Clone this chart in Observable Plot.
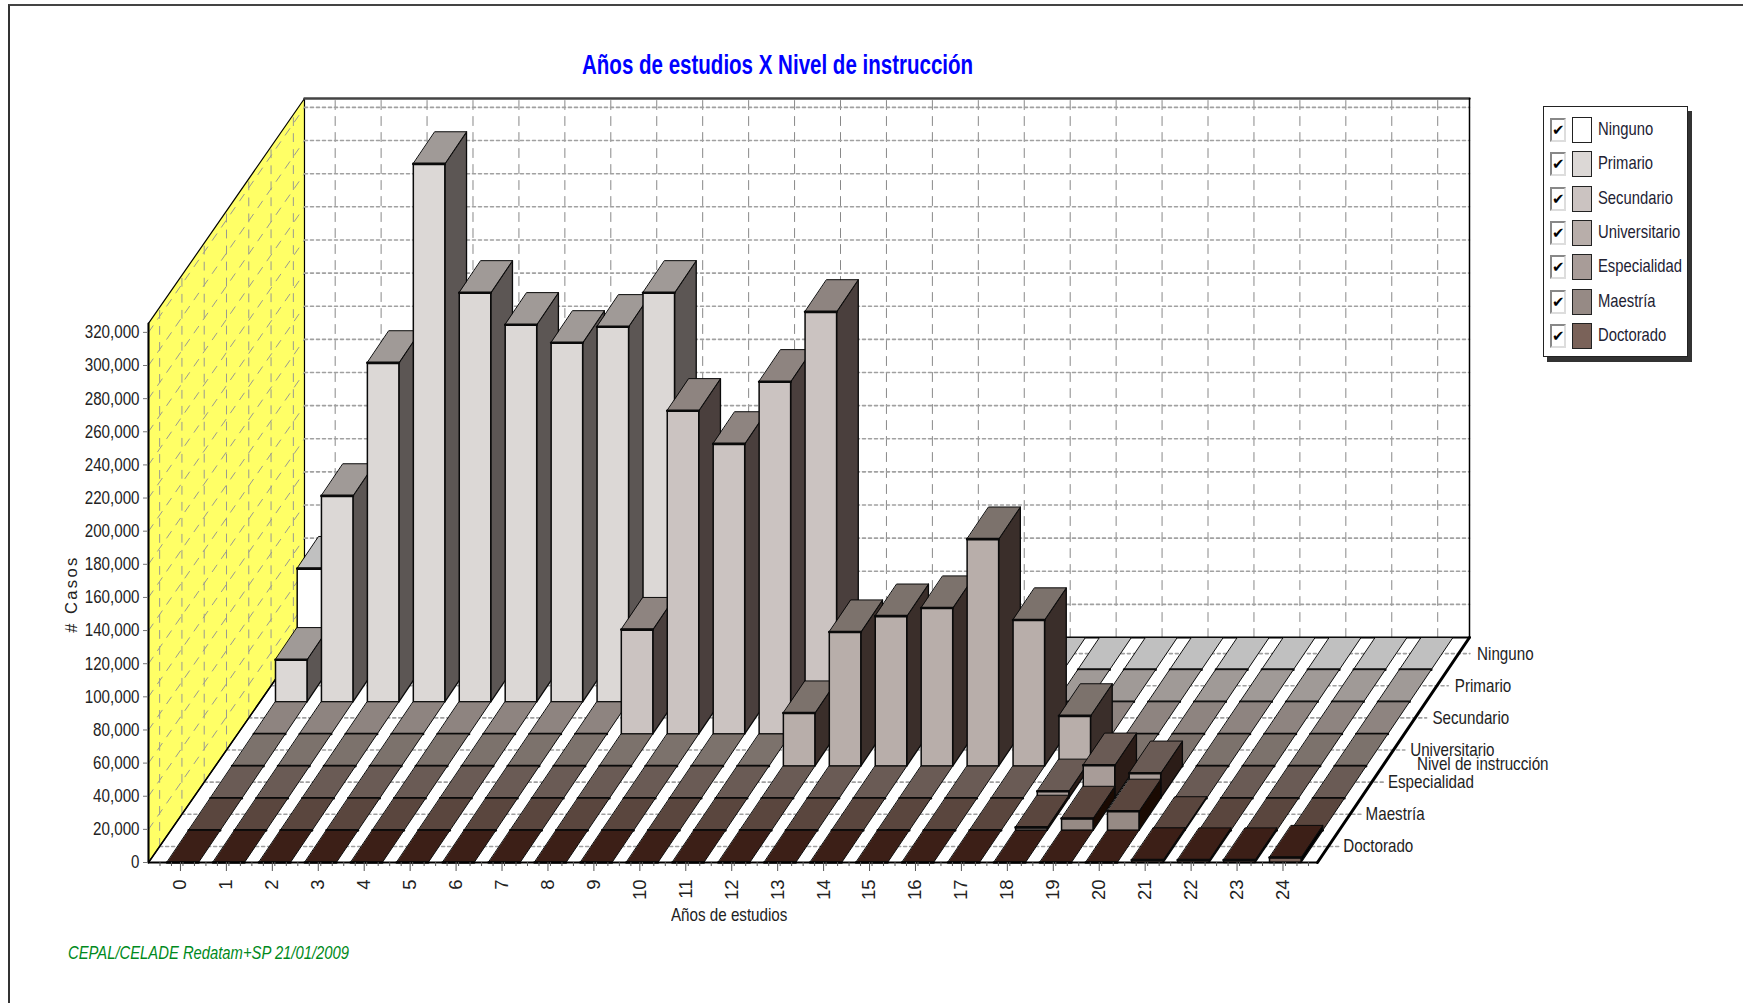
<!DOCTYPE html>
<html lang="es">
<head>
<meta charset="utf-8">
<script src="https://cdn.jsdelivr.net/npm/d3@7"></script>
<script src="https://cdn.jsdelivr.net/npm/@observablehq/plot@0.6"></script>
<style>
html,body{margin:0;padding:0;background:#fff;overflow:hidden}
#page{position:relative;width:1743px;height:1003px;font-family:"Liberation Sans",Arial,sans-serif;color:#222}
#page svg{display:block;position:absolute;left:0;top:0}
#frame{position:absolute;left:8px;top:4px;right:0;bottom:0;border-top:2px solid #444;border-left:2px solid #333;pointer-events:none}
.t{position:absolute;white-space:nowrap;z-index:3;transform-origin:left center}
#title{left:582px;top:48px;font-size:27px;font-weight:bold;color:#0000ff;line-height:34px;transform:scaleX(.76)}
#xlabel{left:671px;top:904px;font-size:18.5px;line-height:22px;transform:scaleX(.82)}
#zlabel{left:1417px;top:752px;font-size:18.5px;line-height:24px;transform:scaleX(.82)}
#ylabel{left:71px;top:594px;font-size:16.5px;letter-spacing:2.4px;transform-origin:center;transform:translate(-50%,-50%) rotate(-90deg)}
#caption{left:68px;top:941px;font-size:18.5px;font-style:italic;color:#008a20;line-height:24px;transform:scaleX(.8)}
#legend{position:absolute;z-index:3;left:1543px;top:106px;width:143px;height:249px;background:#fff;border:1.5px solid #222;box-shadow:4px 5px 0 #333}
.row{position:absolute;left:0;height:26px;width:100%}
.cb{position:absolute;left:6px;top:1px;width:12px;height:20px;background:#fff;border:2px solid #888;border-right-color:#ddd;border-bottom-color:#ddd;font:bold 15px/20px "DejaVu Sans",sans-serif;color:#000;text-align:center;overflow:hidden}
.sw{position:absolute;left:28px;top:0;width:18px;height:24px;border:1.5px solid #222}
.lb{position:absolute;left:54px;top:0;font-size:18.5px;line-height:24px;color:#223;transform:scaleX(.8);transform-origin:left center;white-space:nowrap}
</style>
</head>
<body>
<div id="page">
  <div id="frame"></div>
  <div class="t" id="title">Años de estudios X Nivel de instrucción</div>
  <div class="t" id="xlabel">Años de estudios</div>
  <div class="t" id="zlabel">Nivel de instrucción</div>
  <div class="t" id="ylabel"># Casos</div>
  <div class="t" id="caption">CEPAL/CELADE Redatam+SP 21/01/2009</div>
  <div id="legend"></div>
</div>
<script>
// ---------- data ----------
const years = ["0","1","2","3","4","5","6","7","8","9","10","11","12","13","14","15","16","17","18","19","20","21","22","23","24"];
const levels = ["Doctorado","Maestría","Especialidad","Universitario","Secundario","Primario","Ninguno"]; // front to back
const ninguno       = [61000,0,0,0,0,0,0,0,0,0,0,0,0,0,0,0,0,0,0,0,0,0,0,0,0];
const primario      = [25400,124300,204600,324700,246900,227600,216700,226400,246900,0,0,0,0,0,0,0,0,0,0,0,0,0,0,0,0];
const secundario    = [0,0,0,0,0,0,0,0,63000,195100,175100,212600,254800,0,0,0,0,0,0,0,0,0,0,0,0];
const universitario = [0,0,0,0,0,0,0,0,0,0,0,0,32000,80900,90500,95400,137000,88200,30300,0,0,0,0,0,0];
const especialidad  = [0,0,0,0,0,0,0,0,0,0,0,0,0,0,0,0,0,0,4200,19900,15100,0,0,0,0];
const maestria      = [0,0,0,0,0,0,0,0,0,0,0,0,0,0,0,0,0,0,1800,7200,11500,900,0,0,0];
const doctorado     = [0,0,0,0,0,0,0,0,0,0,0,0,0,0,0,0,0,0,0,0,0,1500,1500,1500,3000];
const series = [doctorado,maestria,especialidad,universitario,secundario,primario,ninguno];
const frontColors = ["#7a6259","#968a85","#a89c98","#b8aeaa","#cbc3c1","#dcd8d6","#ffffff"];
const topColors   = ["#3c1f17","#5a463e","#6a5b55","#7c726c","#8e8480","#a09a97","#c0c0c0"];
const sideColors  = ["#000000","#1a0a02","#2b1c17","#3a2e2a","#4a3f3d","#5c5654","#7f7f7f"];
const legendNames = ["Ninguno","Primario","Secundario","Universitario","Especialidad","Maestría","Doctorado"];
const legendColors = ["#ffffff","#dcd8d6","#cbc3c1","#b8aeaa","#a89c98","#968a85","#7a6259"];
const yTicks = d3.range(0,320001,20000);

// ---------- oblique projection, in data units ----------
const dX = 0.4724, dY = 19400, halfBar = 0.343, axisMax = 325400;
const frontLeft = -0.7455, frontRight = 24.70, backLeft = 2.65, backRight = 28.01, gridShift = 3.318, tickShift = -0.05;
const P = (i,r,v) => ({x:i + r*dX, y:v + r*dY});
const wallY = 7*dY;

// ---------- faces ----------
const back = [], faces = [];
let n = 0;
const poly = (arr,pts,fill,sw=1) => { const id = n++; pts.forEach(p => arr.push({...p,id,fill,sw})); };
poly(back,[{x:frontLeft,y:0},{x:frontLeft,y:axisMax},{x:backLeft,y:axisMax+wallY},{x:backLeft,y:wallY}],"#ffff66");

for (let r = levels.length-1; r >= 0; r--) {
  series[r].forEach((v,i) => {
    const l = i-halfBar, h = i+halfBar;
    if (v>0) poly(faces,[P(h,r,0),P(h,r+1,0),P(h,r+1,v),P(h,r,v)],sideColors[r],1.3);
    poly(faces,[P(l,r,v),P(h,r,v),P(h,r+1,v),P(l,r+1,v)],topColors[r],1);
    if (v>0) poly(faces,[P(l,r,0),P(h,r,0),P(h,r,v),P(l,r,v)],frontColors[r],1.5);
    poly(faces,[P(l,r,v),P(h,r,v)],"none",2.6);
  });
}

// ---------- grid lines ----------
const gridBackV = years.flatMap((_,i)=>[{x:i+gridShift,y:wallY,id:i},{x:i+gridShift,y:wallY+axisMax,id:i}]);
const gridBackH = yTicks.slice(1).flatMap(v=>[{x:backLeft,y:wallY+v,id:v},{x:backRight,y:wallY+v,id:v}]);
const leftAt = f => frontLeft + f*(backLeft-frontLeft);
const gridWallD = yTicks.slice(1).flatMap(v=>[{x:frontLeft,y:v,id:v},{x:backLeft,y:wallY+v,id:v}]);
const gridWallV = levels.flatMap((_,r)=>{const f=(r+.5)/7; return [{x:leftAt(f),y:(r+.5)*dY,id:r},{x:leftAt(f),y:(r+.5)*dY+axisMax,id:r}];});
const gridFloor = levels.flatMap((_,r)=>[{x:leftAt((r+.5)/7),y:(r+.5)*dY,id:r},{x:frontRight+(r+.5)*dX+0.25,y:(r+.5)*dY,id:r}]);
const depthLabels = levels.map((name,r)=>({name,x:frontRight+(r+.5)*dX+r*0.013,y:(r+.5)*dY}));

const edge = (a,b,c,d) => [{x:a,y:b},{x:c,y:d}];

const chart = Plot.plot({
  width:1743, height:1003,
  marginLeft:148, marginRight:274, marginTop:98, marginBottom:141,
  x:{domain:[frontLeft,backRight]},
  y:{domain:[0,461180]},
  color:{type:"identity"},
  style:{background:"transparent",fontFamily:'"Liberation Sans",sans-serif',fontSize:"18.5px",color:"#222"},
  marks:[
    Plot.line(back,{x:"x",y:"y",z:"id",fill:"fill",stroke:"#000",strokeWidth:1.2,curve:"linear-closed"}),
    Plot.line(gridWallD,{x:"x",y:"y",z:"id",stroke:"#9a9a90",strokeWidth:1,strokeDasharray:"8 8"}),
    Plot.line(gridWallV,{x:"x",y:"y",z:"id",stroke:"#9a9a90",strokeWidth:1,strokeDasharray:"8 8"}),
    Plot.line(gridBackV,{x:"x",y:"y",z:"id",stroke:"#888",strokeWidth:1,strokeDasharray:"9 7"}),
    Plot.line(gridBackH,{x:"x",y:"y",z:"id",stroke:"#a0a0a0",strokeWidth:1.6,strokeDasharray:"3 3"}),
    Plot.line(gridFloor,{x:"x",y:"y",z:"id",stroke:"#a0a0a0",strokeWidth:1.6,strokeDasharray:"3 3"}),
    Plot.line(edge(backLeft,wallY+axisMax,backRight,wallY+axisMax),{x:"x",y:"y",stroke:"#444",strokeWidth:2.5}),
    Plot.line(edge(backRight,wallY,backRight,wallY+axisMax),{x:"x",y:"y",stroke:"#000",strokeWidth:1.5}),
    Plot.line(edge(backLeft,wallY,backRight,wallY),{x:"x",y:"y",stroke:"#000",strokeWidth:2}),
    Plot.line(edge(frontLeft,0,backLeft,wallY),{x:"x",y:"y",stroke:"#000",strokeWidth:1.5}),
    Plot.line(faces,{x:"x",y:"y",z:"id",fill:"fill",stroke:"#0a0a0a",strokeWidth:"sw",curve:"linear-closed"}),
    Plot.line(edge(frontRight,0,backRight,wallY),{x:"x",y:"y",stroke:"#000",strokeWidth:3}),
    Plot.line(edge(frontLeft,0,frontRight,0),{x:"x",y:"y",stroke:"#000",strokeWidth:2}),
    Plot.line(edge(frontLeft,0,frontLeft,axisMax),{x:"x",y:"y",stroke:"#000",strokeWidth:2}),
    Plot.axisY({ticks:yTicks,tickFormat:d3.format(","),anchor:"left",label:null,tickSize:5,tickPadding:4,fontSize:18.5,stroke:"#777",fill:"#222",className:"narrow"}),
    Plot.axisX({ticks:d3.range(frontLeft+0.25,frontRight,0.25),tickFormat:()=>"",anchor:"bottom",label:null,tickSize:4,stroke:"#555"}),
    Plot.axisX({ticks:years.map(Number),tickFormat:(d)=>years[d],anchor:"bottom",label:null,tickRotate:-90,tickSize:9,tickPadding:8,fontSize:18.5,dx:tickShift*45.94,stroke:"#555",fill:"#222"}),
    Plot.text(depthLabels,{x:"x",y:"y",text:"name",textAnchor:"start",dx:15,fontSize:18.5,fill:"#222",className:"narrow"})
  ]
});
document.getElementById("page").prepend(chart);
// the reference's lettering is condensed: fit real text to 82% of its natural length
chart.querySelectorAll(".narrow text").forEach(t => {
  t.setAttribute("textLength", (t.getComputedTextLength()*0.82).toFixed(1));
  t.setAttribute("lengthAdjust","spacingAndGlyphs");
});

// ---------- legend ----------
const lg = document.getElementById("legend");
legendNames.forEach((name,i)=>{
  const row = document.createElement("div");
  row.className = "row"; row.style.top = (10 + i*34.3) + "px";
  row.innerHTML = `<div class="cb">✔</div><div class="sw" style="background:${legendColors[i]}"></div><div class="lb">${name}</div>`;
  lg.appendChild(row);
});
</script>
</body>
</html>
